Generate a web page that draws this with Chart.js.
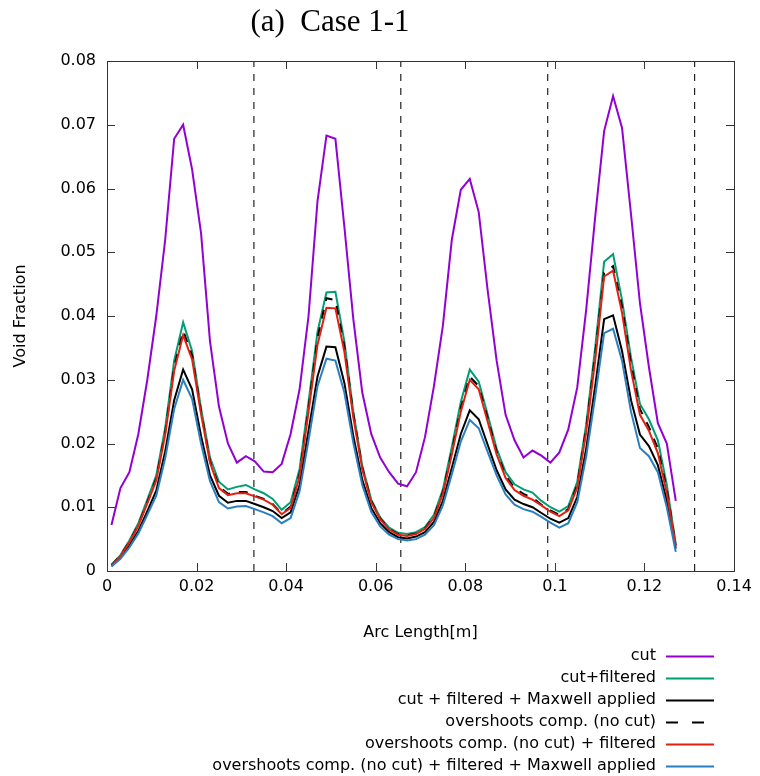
<!DOCTYPE html>
<html>
<head>
<meta charset="utf-8">
<title>Void Fraction - Case 1-1</title>
<script src="https://cdn.jsdelivr.net/npm/chart.js@4.4.1/dist/chart.umd.min.js"></script>
<style>
  html, body { margin: 0; padding: 0; background: #fff; }
  #wrap { width: 760px; height: 776px; }
</style>
</head>
<body>
<div id="wrap"><canvas id="voidChart" width="760" height="776"></canvas></div>
<script>
// Arc length sample points [m]
const arcLength = [
  0.001, 0.003, 0.005, 0.007, 0.009, 0.011, 0.013, 0.015, 0.017, 0.019,
  0.021, 0.023, 0.025, 0.027, 0.029, 0.031, 0.033, 0.035, 0.037, 0.039,
  0.041, 0.043, 0.045, 0.047, 0.049, 0.051, 0.053, 0.055, 0.057, 0.059,
  0.061, 0.063, 0.065, 0.067, 0.069, 0.071, 0.073, 0.075, 0.077, 0.079,
  0.081, 0.083, 0.085, 0.087, 0.089, 0.091, 0.093, 0.095, 0.097, 0.099,
  0.101, 0.103, 0.105, 0.107, 0.109, 0.111, 0.113, 0.115, 0.117, 0.119,
  0.121, 0.123, 0.125, 0.127
];

const cut = [
  0.0072, 0.0130, 0.0155, 0.0215, 0.0300, 0.0400, 0.0520, 0.0678, 0.0700, 0.0630,
  0.0530, 0.0360, 0.0258, 0.0200, 0.0170, 0.0180, 0.0172, 0.0156, 0.0155, 0.0168,
  0.0215, 0.0285, 0.0400, 0.0580, 0.0683, 0.0678, 0.0540, 0.0395, 0.0280, 0.0215,
  0.0178, 0.0155, 0.0137, 0.0133, 0.0155, 0.0210, 0.0290, 0.0385, 0.0520, 0.0598,
  0.0615, 0.0563, 0.0440, 0.0330, 0.0245, 0.0205, 0.0178, 0.0189, 0.0181, 0.0170,
  0.0186, 0.0222, 0.0288, 0.0410, 0.0555, 0.0690, 0.0745, 0.0695, 0.0560, 0.0420,
  0.0320, 0.0232, 0.0200, 0.0110
];

const cutFiltered = [
  0.0010, 0.0025, 0.0048, 0.0075, 0.0112, 0.0150, 0.0225, 0.0330, 0.0390, 0.0345,
  0.0255, 0.0178, 0.0140, 0.0128, 0.0132, 0.0135, 0.0128, 0.0122, 0.0113, 0.0096,
  0.0108, 0.0160, 0.0265, 0.0375, 0.0437, 0.0438, 0.0360, 0.0250, 0.0165, 0.0112,
  0.0084, 0.0068, 0.0060, 0.0058, 0.0061, 0.0069, 0.0088, 0.0128, 0.0195, 0.0265,
  0.0316, 0.0297, 0.0245, 0.0192, 0.0155, 0.0136, 0.0128, 0.0123, 0.0110, 0.0100,
  0.0093, 0.0102, 0.0140, 0.0230, 0.0350, 0.0485, 0.0497, 0.0425, 0.0335, 0.0262,
  0.0238, 0.0205, 0.0135, 0.0042
];

const cutFilteredMaxwell = [
  0.0008, 0.0021, 0.0040, 0.0063, 0.0094, 0.0126, 0.0188, 0.0268, 0.0316, 0.0285,
  0.0212, 0.0150, 0.0118, 0.0107, 0.0110, 0.0110, 0.0105, 0.0100, 0.0094, 0.0083,
  0.0092, 0.0135, 0.0220, 0.0305, 0.0352, 0.0351, 0.0295, 0.0212, 0.0143, 0.0099,
  0.0075, 0.0061, 0.0053, 0.0051, 0.0054, 0.0061, 0.0077, 0.0110, 0.0162, 0.0215,
  0.0252, 0.0238, 0.0198, 0.0158, 0.0128, 0.0112, 0.0105, 0.0100, 0.0091, 0.0082,
  0.0076, 0.0083, 0.0116, 0.0192, 0.0290, 0.0395, 0.0401, 0.0345, 0.0268, 0.0214,
  0.0196, 0.0166, 0.0110, 0.0035
];

const overshoots = [
  0.0009, 0.0024, 0.0046, 0.0072, 0.0108, 0.0145, 0.0218, 0.0320, 0.0377, 0.0338,
  0.0250, 0.0172, 0.0133, 0.0121, 0.0124, 0.0124, 0.0118, 0.0113, 0.0105, 0.0090,
  0.0101, 0.0152, 0.0256, 0.0365, 0.0428, 0.0425, 0.0352, 0.0246, 0.0162, 0.0110,
  0.0082, 0.0066, 0.0058, 0.0056, 0.0059, 0.0067, 0.0085, 0.0124, 0.0188, 0.0256,
  0.0305, 0.0290, 0.0240, 0.0187, 0.0150, 0.0130, 0.0121, 0.0115, 0.0104, 0.0095,
  0.0088, 0.0097, 0.0135, 0.0224, 0.0340, 0.0468, 0.0478, 0.0415, 0.0325, 0.0254,
  0.0226, 0.0192, 0.0128, 0.0040
];

const overshootsFiltered = [
  0.0009, 0.0023, 0.0045, 0.0071, 0.0106, 0.0142, 0.0214, 0.0314, 0.0370, 0.0332,
  0.0246, 0.0170, 0.0130, 0.0119, 0.0122, 0.0122, 0.0117, 0.0112, 0.0104, 0.0089,
  0.0099, 0.0148, 0.0250, 0.0355, 0.0413, 0.0412, 0.0344, 0.0241, 0.0160, 0.0108,
  0.0081, 0.0065, 0.0057, 0.0055, 0.0058, 0.0066, 0.0083, 0.0121, 0.0183, 0.0250,
  0.0300, 0.0285, 0.0234, 0.0183, 0.0146, 0.0127, 0.0118, 0.0112, 0.0103, 0.0093,
  0.0086, 0.0095, 0.0131, 0.0218, 0.0330, 0.0462, 0.0471, 0.0405, 0.0315, 0.0245,
  0.0220, 0.0185, 0.0122, 0.0040
];

const overshootsFilteredMaxwell = [
  0.0007, 0.0019, 0.0037, 0.0059, 0.0088, 0.0118, 0.0177, 0.0254, 0.0300, 0.0270,
  0.0200, 0.0141, 0.0108, 0.0098, 0.0101, 0.0102, 0.0097, 0.0092, 0.0086, 0.0075,
  0.0083, 0.0125, 0.0205, 0.0290, 0.0333, 0.0330, 0.0280, 0.0201, 0.0135, 0.0093,
  0.0070, 0.0057, 0.0050, 0.0048, 0.0050, 0.0057, 0.0072, 0.0103, 0.0152, 0.0203,
  0.0237, 0.0224, 0.0187, 0.0150, 0.0120, 0.0104, 0.0097, 0.0093, 0.0085, 0.0076,
  0.0068, 0.0075, 0.0108, 0.0180, 0.0273, 0.0373, 0.0380, 0.0330, 0.0250, 0.0193,
  0.0180, 0.0155, 0.0100, 0.0030
];

// vertical dashed separators
const dividerPositions = [0.0328, 0.0656, 0.0984, 0.1312];

const xTickLabels = ['0', '0.02', '0.04', '0.06', '0.08', '0.1', '0.12', '0.14'];
const yTickLabels = ['0', '0.01', '0.02', '0.03', '0.04', '0.05', '0.06', '0.07', '0.08'];

const chartTitle = '(a)  Case 1-1';

const toPoints = values => values.map((v, i) => ({ x: arcLength[i], y: v }));

const dividerPoints = [];
dividerPositions.forEach(x => {
    dividerPoints.push({ x, y: 0 }, { x, y: 0.08 }, { x, y: null });
});

const FONT = '"DejaVu Sans", sans-serif';

// gnuplot style frame, mirrored inward ticks, title and legend
const gnuplotFrame = {
    id: 'gnuplotFrame',
    afterDraw(chart) {
        const { ctx, chartArea: a, scales } = chart;
        ctx.save();

        ctx.strokeStyle = '#333';
        ctx.lineWidth = 1;
        ctx.setLineDash([]);
        ctx.beginPath();
        scales.x.ticks.forEach(t => {
            const px = Math.round(scales.x.getPixelForValue(t.value)) + 0.5;
            ctx.moveTo(px, a.bottom); ctx.lineTo(px, a.bottom - 8);
            ctx.moveTo(px, a.top); ctx.lineTo(px, a.top + 8);
        });
        scales.y.ticks.forEach(t => {
            const py = Math.round(scales.y.getPixelForValue(t.value)) + 0.5;
            ctx.moveTo(a.left, py); ctx.lineTo(a.left + 8, py);
            ctx.moveTo(a.right, py); ctx.lineTo(a.right - 8, py);
        });
        ctx.stroke();
        ctx.strokeRect(Math.round(a.left) + 0.5, Math.round(a.top) + 0.5,
            Math.round(a.right - a.left), Math.round(a.bottom - a.top));

        // title
        ctx.fillStyle = '#000';
        ctx.font = '31px "Liberation Serif", serif';
        ctx.textAlign = 'center';
        ctx.textBaseline = 'middle';
        ctx.fillText(chartTitle, 330, 23);

        // legend, right aligned with sample line on the right
        ctx.font = '16px ' + FONT;
        ctx.textAlign = 'right';
        chart.data.datasets.filter(d => !d.hideInLegend).forEach((ds, i) => {
            const y = 656 + 22 * i;
            ctx.fillStyle = '#000';
            ctx.fillText(ds.label, 656, y);
            ctx.strokeStyle = ds.borderColor;
            ctx.lineWidth = ds.borderWidth;
            ctx.setLineDash(ds.legendDash || ds.borderDash || []);
            ctx.beginPath();
            ctx.moveTo(666, y + 0.5);
            ctx.lineTo(714, y + 0.5);
            ctx.stroke();
        });
        ctx.restore();
    }
};

const series = (label, values, color, order, extra) => Object.assign({
    label,
    data: toPoints(values),
    borderColor: color,
    backgroundColor: color,
    borderWidth: 2,
    pointRadius: 0,
    tension: 0,
    fill: false,
    order
}, extra || {});

const chart = new Chart(document.getElementById('voidChart'), {
    type: 'line',
    data: {
        datasets: [
            series('cut', cut, '#9400d3', 5),
            series('cut+filtered', cutFiltered, '#009e73', 4),
            series('cut + filtered + Maxwell applied', cutFilteredMaxwell, '#000000', 3),
            series('overshoots comp. (no cut)', overshoots, '#000000', 2, { borderDash: [9, 9], legendDash: [12, 14] }),
            series('overshoots comp. (no cut) + filtered', overshootsFiltered, '#e51e10', 1),
            series('overshoots comp. (no cut) + filtered + Maxwell applied', overshootsFilteredMaxwell, '#2a7fc0', 0),
            {
                label: 'dividers',
                hideInLegend: true,
                data: dividerPoints,
                borderColor: '#222',
                borderWidth: 1.2,
                borderDash: [7, 7],
                pointRadius: 0,
                spanGaps: false,
                order: 10
            }
        ]
    },
    options: {
        responsive: false,
        animation: false,
        layout: { padding: { top: 61, right: 26, bottom: 130, left: 0 } },
        plugins: {
            legend: { display: false },
            tooltip: { enabled: false },
            title: { display: false }
        },
        scales: {
            x: {
                type: 'linear',
                min: 0,
                max: 0.14,
                ticks: {
                    stepSize: 0.02,
                    padding: 6,
                    color: '#000',
                    font: { family: FONT, size: 16 },
                    maxRotation: 0,
                    callback: (v, i) => xTickLabels[i]
                },
                grid: { display: false, drawTicks: false },
                border: { display: false },
                title: {
                    display: true,
                    text: 'Arc Length[m]',
                    color: '#000',
                    font: { family: FONT, size: 16 },
                    padding: { top: 0, bottom: 4 }
                },
                afterFit: s => { s.height = 75; }
            },
            y: {
                min: 0,
                max: 0.08,
                ticks: {
                    stepSize: 0.01,
                    padding: 11,
                    color: '#000',
                    font: { family: FONT, size: 16 },
                    callback: (v, i) => yTickLabels[i]
                },
                grid: { display: false, drawTicks: false },
                border: { display: false },
                title: {
                    display: true,
                    text: 'Void Fraction',
                    color: '#000',
                    font: { family: FONT, size: 16 },
                    padding: { top: 11, bottom: 0 }
                },
                afterFit: s => { s.width = 107; }
            }
        }
    },
    plugins: [gnuplotFrame]
});
</script>
</body>
</html>
